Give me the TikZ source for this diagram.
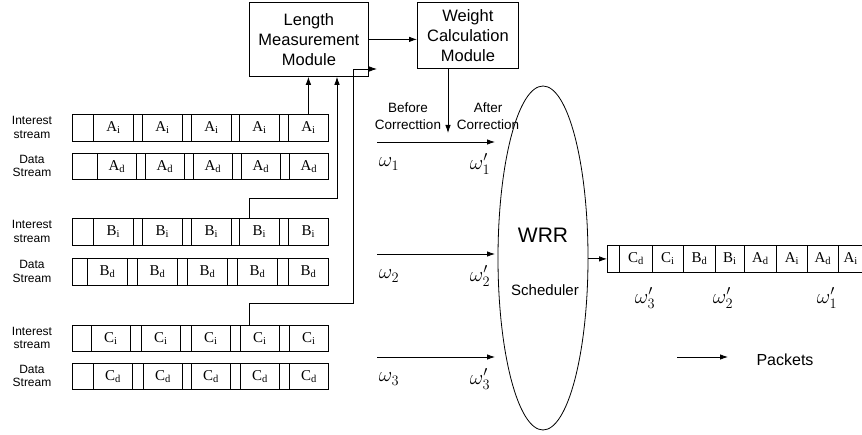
\documentclass[tikz,border=0pt]{standalone}
\usepackage{fontspec}
\setmainfont{Liberation Serif}
\setsansfont{Liberation Sans}
\usetikzlibrary{shapes.geometric,arrows.meta}

% one stream queue: frame plus five packet cells
% #1 name, #2 top, #3 height, #4 cell starts, #5 cell width, #6 cell text
\newcommand\streamrow[6]{%
  \node[qbox, minimum height=#3, anchor=north west] (#1) at (72,#2) {};
  \foreach \s [count=\k] in {#4}
    \node[cell, minimum width=#5, minimum height=#3, anchor=north west] (#1\k) at (\s,#2) {#6};
}

\begin{document}
\begin{tikzpicture}[x=1pt, y=-1pt, line width=0.8pt,
  arr/.style={-{Latex[length=8pt,width=5.5pt]}},
  qbox/.style={draw, minimum width=256pt, inner sep=0pt},
  cell/.style={draw, inner sep=0pt, font=\fontsize{15}{17}\selectfont},
  side/.style={font=\sffamily\fontsize{12}{13.5}\selectfont, align=center},
  module/.style={draw, align=center, inner sep=0pt, font=\sffamily\fontsize{16.5}{20}\selectfont},
  note/.style={font=\sffamily\fontsize{13.5}{17}\selectfont, align=center},
  wlab/.style={font=\fontsize{22}{24}\selectfont, inner sep=0pt}]
\useasboundingbox (0,0) rectangle (862,435);

% modules
\node[module, minimum width=119, minimum height=74, anchor=north west] (len) at (249,2) {Length\\Measurement\\Module};
\node[module, minimum width=101, minimum height=66, anchor=north west] (wgt) at (417,2) {Weight\\Calculation\\Module};
\draw[arr] (len.east) -- (len.east -| wgt.west);

% stream queues
\streamrow{ai}{114}{27}{93,142,191,239,288}{40}{A\textsubscript{i}}
\streamrow{ad}{153}{26}{97,145,193,241,289}{39}{A\textsubscript{d}}
\streamrow{bi}{218}{27}{93,142,191,239,288}{40}{B\textsubscript{i}}
\streamrow{bd}{258}{27}{87,137,187,237,288}{40}{B\textsubscript{d}}
\streamrow{ci}{325}{26}{91,141,191,240,289}{39}{C\textsubscript{i}}
\streamrow{cd}{363}{26}{93,143,191,240,289}{39}{C\textsubscript{d}}

\node[side] (ail) at (32,127.5) {Interest\\stream};
\node[side] (adl) at (32,166) {Data\\Stream};
\node[side] (bil) at (32,231.5) {Interest\\stream};
\node[side] (bdl) at (32,271.5) {Data\\Stream};
\node[side] (cil) at (32,338) {Interest\\stream};
\node[side] (cdl) at (32,376) {Data\\Stream};

% taps into the length module
\draw[arr] (ai5.north) -- (ai5.north |- len.south);
\coordinate (bturn) at (337,198);
\draw[arr] ([xshift=10pt]bi4.north west) |- (bturn) -- (bturn |- len.south);
\coordinate (cturn) at (353,303);
\coordinate (cend) at (377,69);
\draw[arr] ([xshift=9pt]ci4.north west) |- (cturn) |- (cend);

% weight correction
\coordinate (corr) at (448,133);
\draw[arr] (wgt.south -| corr) -- (corr);
\node[note] (bef) at (408,116.5) {Before\\Correcttion};
\node[note] (aft) at (488,116.5) {After\\Correction};

% scheduler
\node[draw, ellipse, minimum width=90, minimum height=344, inner sep=0pt] (wrr) at (543,258) {};
\node[font=\sffamily\fontsize{21}{23}\selectfont] (wrrt) at (543,235) {WRR};
\node[font=\sffamily\fontsize{15}{17}\selectfont] (sch) at (545,290) {Scheduler};

% weights per class
\foreach \n/\y in {1/142, 2/254, 3/357} {
  \coordinate (s\n) at (377,\y);
  \coordinate (e\n) at (495,\y);
  \draw[arr] (s\n) -- (e\n);
  \node[wlab] (w\n) at (389,\y+22) {$\omega_{\n}$};
  \node[wlab] (wp\n) at (480,\y+22) {$\omega'_{\n}$};
}

% output packet queue
\node[draw, inner sep=0pt, minimum width=12, minimum height=27, anchor=north west] (q0) at (607,245) {};
\foreach \a/\b/\t [count=\k] in {619/652/C\textsubscript{d}, 652/683/C\textsubscript{i}, 683/715/B\textsubscript{d}, 715/744/B\textsubscript{i}, 744/776/A\textsubscript{d}, 776/807/A\textsubscript{i}, 807/838/A\textsubscript{d}, 838/862.6/A\textsubscript{i}}
  \node[cell, minimum width={\b-\a}, minimum height=27, anchor=north west] (q\k) at (\a,245) {\t};
\draw[arr] (wrr.east |- q0.west) -- (q0.west);
\node[wlab] (o3) at (645,298) {$\omega'_{3}$};
\node[wlab] (o2) at (723,298) {$\omega'_{2}$};
\node[wlab] (o1) at (827,298) {$\omega'_{1}$};

% legend
\coordinate (ps) at (677,357);
\coordinate (pe) at (728,357);
\draw[arr] (ps) -- (pe);
\node[font=\sffamily\fontsize{16}{18}\selectfont] (pk) at (785,360) {Packets};
\end{tikzpicture}
\end{document}
